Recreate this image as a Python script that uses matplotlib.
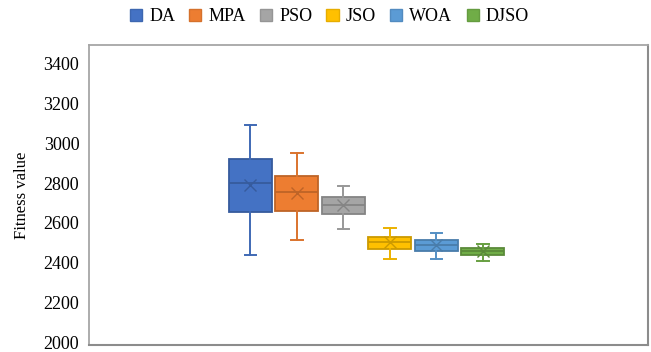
import matplotlib.pyplot as plt
import matplotlib.transforms as mtransforms
from matplotlib.patches import Patch
from matplotlib.colors import to_rgb
import numpy as np

plt.rcParams['font.family'] = ['Liberation Serif', 'DejaVu Serif']

# Data
labels = ['DA', 'MPA', 'PSO', 'JSO', 'WOA', 'DJSO']
whislo = [2453, 2528, 2584, 2431, 2431, 2421]
q1 = [2666, 2671, 2656, 2482, 2473, 2450]
med = [2811, 2768, 2704, 2515, 2503, 2470]
q3 = [2933, 2848, 2744, 2543, 2528, 2488]
whishi = [3105, 2962, 2799, 2585, 2562, 2508]
means = [2805, 2761, 2700, 2515, 2503, 2470]

colors = ['#4472C4', '#ED7D31', '#A5A5A5', '#FFC000', '#5B9BD5', '#70AD47']


def darker(c, f=0.8):
    return tuple(v * f for v in to_rgb(c))


stats = []
for i in range(len(labels)):
    stats.append({'label': labels[i], 'whislo': whislo[i], 'q1': q1[i], 'med': med[i],
                  'q3': q3[i], 'whishi': whishi[i], 'mean': means[i], 'fliers': []})

fig = plt.figure(figsize=(6.51, 3.52), dpi=100)
ax = fig.add_axes([0.1367, 0.0199, 0.8587, 0.8523])

x = np.arange(len(labels))
bp = ax.bxp(stats, positions=x, widths=0.925, patch_artist=True, showmeans=True,
            meanline=False, manage_ticks=False, capwidths=0.25)

for i, c in enumerate(colors):
    dc = darker(c)
    bp['boxes'][i].set_facecolor(c)
    bp['boxes'][i].set_edgecolor(dc)
    bp['boxes'][i].set_linewidth(1.3)
    bp['medians'][i].set_color(dc)
    bp['medians'][i].set_linewidth(1.3)
    for w in bp['whiskers'][2 * i:2 * i + 2]:
        w.set_color(darker(c, 0.92))
        w.set_linewidth(1.4)
    for cap in bp['caps'][2 * i:2 * i + 2]:
        cap.set_color(darker(c, 0.92))
        cap.set_linewidth(1.4)
    bp['means'][i].set_marker('x')
    bp['means'][i].set_markeredgecolor(dc)
    bp['means'][i].set_markersize(8.5)
    bp['means'][i].set_markeredgewidth(1.0)

ax.set_xlim(-3.47, 8.55)
ax.set_ylim(2000, 3505)
ax.set_yticks(np.arange(2000, 3401, 200))
ax.set_xticks([])
ax.tick_params(axis='y', length=0, pad=7, labelsize=13)
ax.set_ylabel('Fitness value', fontsize=12, labelpad=10)

# nudge tick labels up a little so the bottom one stays inside the figure
offset = mtransforms.ScaledTranslation(0, 2.5 / 100, fig.dpi_scale_trans)
for lbl in ax.get_yticklabels():
    lbl.set_transform(lbl.get_transform() + offset)

for s in ['left', 'top']:
    ax.spines[s].set_color('#A6A6A6')
    ax.spines[s].set_linewidth(1.3)
for s in ['right', 'bottom']:
    ax.spines[s].set_color('#8C8C8C')
    ax.spines[s].set_linewidth(1.5)

handles = [Patch(facecolor=c, edgecolor=darker(c, 0.9), label=l) for c, l in zip(colors, labels)]
fig.legend(handles=handles, loc='center', bbox_to_anchor=(0.506, 0.952), ncol=6,
           frameon=False, fontsize=13, handlelength=0.67, handleheight=0.67,
           handletextpad=0.4, columnspacing=0.78)

fig.savefig('out.png', dpi=100)
